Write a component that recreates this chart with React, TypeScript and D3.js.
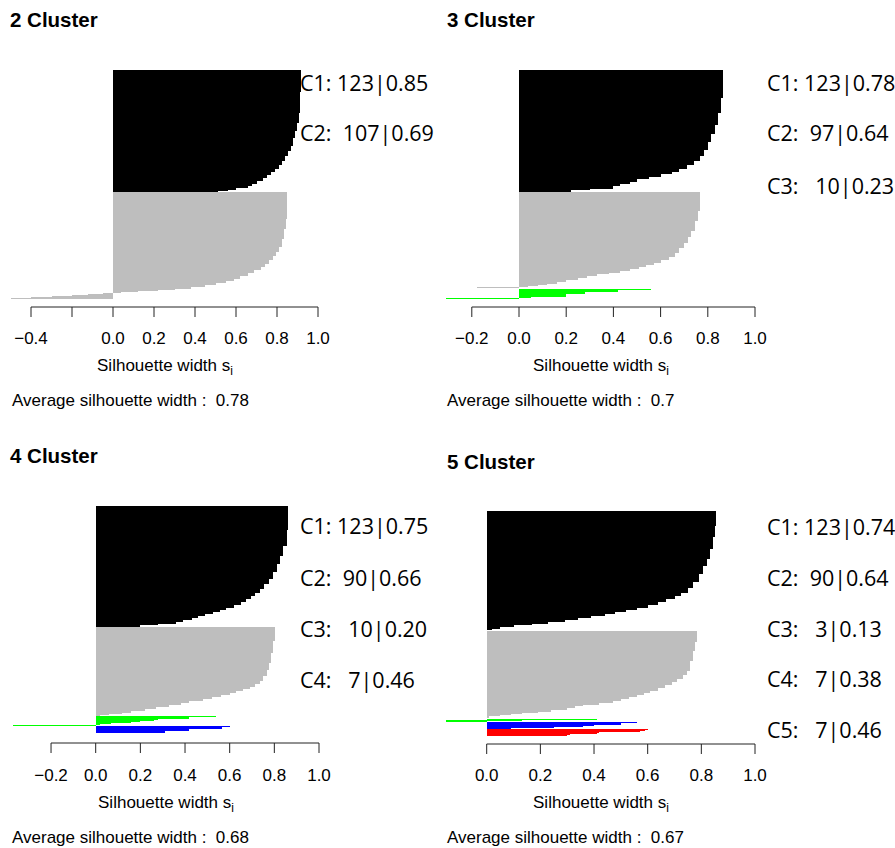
import React from "react";
import * as d3 from "d3";

// Silhouette widths, run-length encoded as [value, count],
// each cluster sorted decreasingly (top to bottom) as in R's plot.silhouette.
type RL = [number, number][];

// ---- 2 clusters ----
const k2_c1: RL = [[0.915, 22], [0.912, 21], [0.905, 10], [0.898, 8], [0.89, 8], [0.88, 8], [0.87, 5], [0.855, 5], [0.84, 5], [0.825, 4], [0.81, 4], [0.79, 3], [0.77, 3], [0.75, 3], [0.73, 3], [0.70, 3], [0.68, 2], [0.66, 2], [0.60, 2], [0.56, 1], [0.51, 1]];
const k2_c2: RL = [[0.847, 27], [0.842, 10], [0.835, 10], [0.825, 8], [0.81, 5], [0.795, 4], [0.78, 4], [0.76, 4], [0.74, 3], [0.72, 3], [0.69, 3], [0.66, 3], [0.62, 3], [0.59, 2], [0.55, 2], [0.50, 2], [0.45, 2], [0.38, 2], [0.30, 1], [0.22, 1], [0.12, 1], [0.04, 1], [-0.05, 1], [-0.12, 1], [-0.2, 1], [-0.3, 1], [-0.4, 1], [-0.5, 1]];

// ---- 3 clusters ----
const k3_c1: RL = [[0.865, 28], [0.858, 15], [0.845, 12], [0.83, 10], [0.815, 8], [0.80, 8], [0.785, 6], [0.765, 5], [0.74, 4], [0.71, 4], [0.68, 3], [0.65, 2], [0.60, 3], [0.55, 2], [0.50, 3], [0.47, 2], [0.43, 2], [0.40, 3], [0.30, 1], [0.22, 2]];
const k3_c2: RL = [[0.768, 19], [0.76, 10], [0.745, 10], [0.73, 6], [0.715, 6], [0.70, 5], [0.68, 5], [0.66, 4], [0.635, 3], [0.60, 3], [0.57, 2], [0.54, 2], [0.51, 2], [0.47, 2], [0.43, 2], [0.38, 2], [0.33, 2], [0.29, 2], [0.25, 2], [0.20, 2], [0.16, 2], [0.12, 1], [0.08, 1], [0.04, 1], [-0.18, 1]];
const k3_c3: RL = [[0.56, 1], [0.42, 2], [0.28, 2], [0.20, 3], [0.05, 1], [-0.31, 1]];

// ---- 4 clusters ----
const k4_c1: RL = [[0.862, 25], [0.855, 16], [0.84, 10], [0.826, 8], [0.81, 8], [0.795, 8], [0.775, 5], [0.755, 5], [0.735, 4], [0.715, 3], [0.695, 3], [0.675, 3], [0.65, 3], [0.62, 3], [0.585, 2], [0.555, 2], [0.525, 2], [0.49, 2], [0.46, 2], [0.43, 2], [0.39, 2], [0.36, 2], [0.28, 1], [0.20, 2]];
const k4_c2: RL = [[0.805, 14], [0.795, 12], [0.785, 10], [0.775, 8], [0.765, 6], [0.75, 5], [0.735, 3], [0.715, 3], [0.69, 2], [0.66, 2], [0.63, 2], [0.60, 2], [0.56, 2], [0.52, 2], [0.48, 2], [0.42, 2], [0.38, 2], [0.33, 2], [0.27, 2], [0.22, 2], [0.16, 2], [0.12, 1], [0.06, 1], [0.02, 1]];
const k4_c3: RL = [[0.54, 1], [0.42, 2], [0.28, 1], [0.26, 1], [0.20, 1], [0.16, 1], [0.07, 1], [0.02, 1], [-0.37, 1]];
const k4_c4: RL = [[0.60, 1], [0.565, 2], [0.42, 2], [0.31, 2]];

// ---- 5 clusters ----
const k5_c1: RL = [[0.856, 15], [0.85, 12], [0.842, 12], [0.832, 10], [0.82, 8], [0.805, 8], [0.79, 8], [0.77, 6], [0.75, 5], [0.725, 4], [0.70, 3], [0.67, 3], [0.64, 3], [0.60, 3], [0.56, 2], [0.52, 2], [0.48, 2], [0.44, 2], [0.39, 2], [0.34, 2], [0.29, 2], [0.23, 2], [0.17, 2], [0.10, 2], [0.05, 2], [0.02, 1]];
const k5_c2: RL = [[0.785, 12], [0.778, 9], [0.77, 10], [0.758, 10], [0.745, 5], [0.73, 4], [0.71, 3], [0.69, 3], [0.665, 3], [0.64, 3], [0.61, 2], [0.585, 2], [0.56, 2], [0.53, 2], [0.50, 2], [0.47, 2], [0.42, 2], [0.36, 2], [0.33, 2], [0.30, 2], [0.24, 2], [0.19, 1], [0.13, 1], [0.09, 1], [0.05, 1], [0.01, 2]];
const k5_c3: RL = [[0.41, 1], [0.13, 1], [-0.15, 1]];
const k5_c4: RL = [[0.56, 1], [0.50, 2], [0.40, 1], [0.36, 1], [0.25, 1], [0.09, 1]];
const k5_c5: RL = [[0.60, 1], [0.59, 1], [0.57, 1], [0.42, 1], [0.41, 1], [0.31, 1], [0.30, 1]];

const clusterColors = ["#000000", "#BEBEBE", "#00FF00", "#0000FF", "#FF0000"];

const panelTitles = ["2 Cluster", "3 Cluster", "4 Cluster", "5 Cluster"];
const panelAverages = ["0.78", "0.7", "0.68", "0.67"];
const panelTicks = [
  [-0.4, -0.2, 0, 0.2, 0.4, 0.6, 0.8, 1.0],
  [-0.2, 0, 0.2, 0.4, 0.6, 0.8, 1.0],
  [-0.2, 0, 0.2, 0.4, 0.6, 0.8, 1.0],
  [0, 0.2, 0.4, 0.6, 0.8, 1.0],
];
const hiddenTickLabels = [[-0.2], [], [], []];
const labels2 = ["C1: 123|0.85", "C2:  107|0.69"];
const labels3 = ["C1: 123|0.78", "C2:  97|0.64", "C3:   10|0.23"];
const labels4 = ["C1: 123|0.75", "C2:  90|0.66", "C3:   10|0.20", "C4:   7|0.46"];
const labels5 = ["C1: 123|0.74", "C2:  90|0.64", "C3:   3|0.13", "C4:   7|0.38", "C5:   7|0.46"];

const panelClusters: RL[][] = [
  [k2_c1, k2_c2],
  [k3_c1, k3_c2, k3_c3],
  [k4_c1, k4_c2, k4_c3, k4_c4],
  [k5_c1, k5_c2, k5_c3, k5_c4, k5_c5],
];
const panelLabels = [labels2, labels3, labels4, labels5];

// ---- layout (pixels) ----
const layout = [
  { x0: 113, x1: 318, yTop: 70, yBot: 298.5, axisY: 307, tickLabY: 344, xlabX: 165, xlabY: 371, avgX: 12, avgY: 406, titleX: 10, titleY: 27, labX: 300, labY: [90.5, 140.5] },
  { x0: 519, x1: 755, yTop: 70, yBot: 298.7, axisY: 307, tickLabY: 344, xlabX: 601, xlabY: 371, avgX: 447, avgY: 406, titleX: 447, titleY: 27, labX: 767, labY: [90.5, 140.5, 193.5] },
  { x0: 95.7, x1: 319, yTop: 505.7, yBot: 733.3, axisY: 743, tickLabY: 781, xlabX: 166, xlabY: 808, avgX: 12, avgY: 842.5, titleX: 10, titleY: 463, labX: 300, labY: [533.5, 585.5, 636.5, 687.5] },
  { x0: 486.7, x1: 755, yTop: 511, yBot: 736, axisY: 744, tickLabY: 781, xlabX: 601, xlabY: 808, avgX: 447, avgY: 843, titleX: 447, titleY: 469, labX: 767, labY: [534.5, 585.5, 636.5, 686.5, 737.5] },
];

const expand = (rl: RL) => rl.flatMap(([v, n]) => Array(n).fill(v) as number[]);
const fmt = d3.format(".1f");
const RFONT = "'Liberation Sans', Arial, Helvetica, sans-serif";
const LFONT = "'Open Sans', 'Noto Sans', sans-serif";

function Panel({ idx }: { idx: number }) {
  const L = layout[idx];
  const clusters = panelClusters[idx].map(expand);
  const total = clusters.reduce((s, c) => s + c.length, 0) + 0.5 * (clusters.length - 1);
  const xs = d3.scaleLinear().domain([0, 1]).range([L.x0, L.x1]);
  const ys = d3.scaleLinear().domain([0, total]).range([L.yTop, L.yBot]);
  const bars: React.ReactNode[] = [];
  let u = 0;
  clusters.forEach((vals, ci) => {
    vals.forEach((v, i) => {
      const xa = xs(Math.min(0, v));
      const xb = xs(Math.max(0, v));
      bars.push(
        <rect key={`${ci}-${i}`} x={xa} y={ys(u)} width={Math.max(0, xb - xa)} height={ys(u + 1) - ys(u) + 0.05} fill={clusterColors[ci]} />
      );
      u += 1;
    });
    u += 0.5;
  });
  const ticks = panelTicks[idx];
  return (
    <g>
      <text x={L.titleX} y={L.titleY} fontFamily={RFONT} fontWeight="bold" fontSize={20.5} fill="#000">{panelTitles[idx]}</text>
      <g shapeRendering="crispEdges">{bars}</g>
      <g stroke="#222" strokeWidth={1} fill="none">
        <line x1={xs(ticks[0])} x2={xs(ticks[ticks.length - 1])} y1={L.axisY} y2={L.axisY} />
        {ticks.map((t) => (
          <line key={t} x1={xs(t)} x2={xs(t)} y1={L.axisY} y2={L.axisY + 10} />
        ))}
      </g>
      {ticks.filter((t) => !hiddenTickLabels[idx].includes(t)).map((t) => (
        <text key={t} x={xs(t)} y={L.tickLabY} textAnchor="middle" fontFamily={RFONT} fontSize={17} fill="#000">{fmt(t)}</text>
      ))}
      <text x={L.xlabX} y={L.xlabY} textAnchor="middle" fontFamily={RFONT} fontSize={17} fill="#000">
        Silhouette width s<tspan fontSize={12} dy={4}>i</tspan>
      </text>
      <text x={L.avgX} y={L.avgY} fontFamily={RFONT} fontSize={17} fill="#000" style={{ whiteSpace: "pre" }}>
        {`Average silhouette width :  ${panelAverages[idx]}`}
      </text>
      {panelLabels[idx].map((s, i) => (
        <text key={s} x={L.labX} y={L.labY[i]} fontFamily={LFONT} fontSize={21.5} fill="#000" style={{ whiteSpace: "pre" }}>{s}</text>
      ))}
    </g>
  );
}

export default function App() {
  return (
    <svg width={895} height={848} viewBox="0 0 895 848" style={{ position: "absolute", left: 0, top: 0, background: "#fff" }}>
      <rect x={0} y={0} width={895} height={848} fill="#fff" />
      {[0, 1, 2, 3].map((i) => (
        <Panel key={i} idx={i} />
      ))}
    </svg>
  );
}
